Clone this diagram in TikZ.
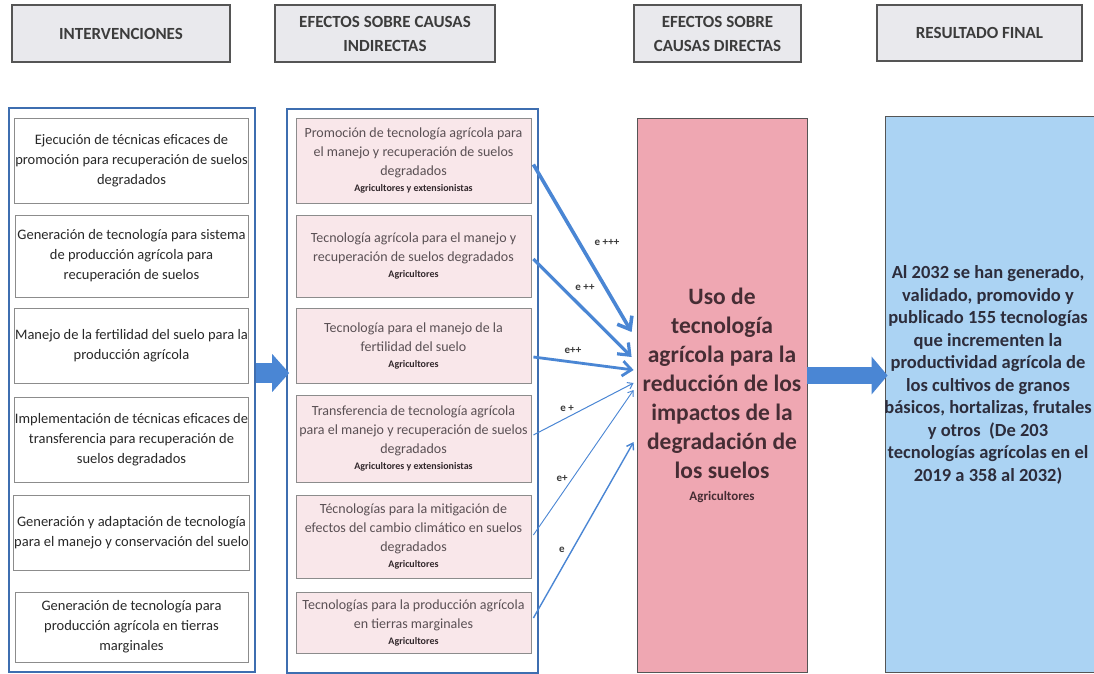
\documentclass[tikz,border=0pt]{standalone}
\usepackage{fontspec}
\setmainfont{Carlito}
\usetikzlibrary{arrows.meta,calc}
\definecolor{hdrfill}{RGB}{233,233,237}
\definecolor{hdrline}{RGB}{85,85,85}
\definecolor{hdrtext}{RGB}{60,60,60}
\definecolor{contline}{RGB}{62,110,176}
\definecolor{boxline}{RGB}{140,140,140}
\definecolor{pinkfill}{RGB}{249,231,234}
\definecolor{redfill}{RGB}{239,167,178}
\definecolor{bluefill}{RGB}{171,211,243}
\definecolor{arrowblue}{RGB}{74,134,212}
\definecolor{lefttext}{RGB}{40,40,40}
\definecolor{midtext}{RGB}{90,80,84}
\definecolor{redtext}{RGB}{70,45,52}
\definecolor{bluetext}{RGB}{45,45,60}
\definecolor{subtext}{RGB}{50,40,44}
\newcommand{\subl}[1]{{\fontsize{10}{12}\selectfont\bfseries\color{subtext}#1}}
\begin{document}
\begin{tikzpicture}[x=1pt,y=-1pt,
  hdr/.style={draw=hdrline, line width=1.2pt, fill=hdrfill, align=center,
    font=\fontsize{17}{24}\selectfont\bfseries, text=hdrtext},
  cont/.style={draw=contline, line width=1.6pt},
  lbox/.style={draw=boxline, line width=0.8pt, fill=white, inner xsep=0.5pt,
    align=center, font=\fontsize{14.5}{20}\selectfont, text=lefttext, minimum width=233pt},
  mbox/.style={draw=boxline, line width=0.8pt, fill=pinkfill, inner xsep=1pt,
    align=center, font=\fontsize{14}{19}\selectfont, text=midtext, minimum width=235pt},
  link/.style={draw=arrowblue},
  elab/.style={font=\fontsize{11}{13}\selectfont\bfseries, text=hdrtext},
  blockarrow/.style={draw=arrowblue, line width=#1}
]
\useasboundingbox (0,0) rectangle (1094,674);
\clip (0,0) rectangle (1094,674);
\fill[white] (0,0) rectangle (1094,674);

% headers
\node[hdr, minimum width=218pt, minimum height=57pt] (h1) at (121,33.5) {INTERVENCIONES};
\node[hdr, minimum width=220pt, minimum height=57pt] (h2) at (385,33.5) {EFECTOS SOBRE CAUSAS\\INDIRECTAS};
\node[hdr, minimum width=167pt, minimum height=57pt] (h3) at (717.5,33.5) {EFECTOS SOBRE\\CAUSAS DIRECTAS};
\node[hdr, minimum width=205pt, minimum height=56pt] (h4) at (979.5,33) {RESULTADO FINAL};

% containers
\node[cont, minimum width=246pt, minimum height=564pt] (lc) at (132,390) {};
\node[cont, minimum width=251pt, minimum height=564pt] (mc) at (412.5,391) {};

% left boxes
\node[lbox, minimum height=85pt] (l1) at (131.5,160.5) {Ejecución de técnicas eficaces de\\promoción para recuperación de suelos\\degradados};
\node[lbox, minimum height=82pt] (l2) at (131.5,256) {Generación de tecnología para sistema\\de producción agrícola para\\recuperación de suelos};
\node[lbox, minimum height=75pt] (l3) at (131.5,345.5) {Manejo de la fertilidad del suelo para la\\producción agrícola};
\node[lbox, minimum height=85pt] (l4) at (131.5,439.5) {Implementación de técnicas eficaces de\\transferencia para recuperación de\\suelos degradados};
\node[lbox, minimum height=75pt] (l5) at (131.5,532.5) {Generación y adaptación de tecnología\\para el manejo y conservación del suelo};
\node[lbox, minimum height=70pt] (l6) at (131.5,627) {Generación de tecnología para\\producción agrícola en tierras\\marginales};

% middle boxes
\node[mbox, minimum height=85pt] (m1) at (413.5,160.5) {Promoción de tecnología agrícola para\\el manejo y recuperación de suelos\\degradados\\[-3pt]\subl{Agricultores y extensionistas}};
\node[mbox, minimum height=82pt] (m2) at (413.5,256) {Tecnología agrícola para el manejo y\\recuperación de suelos degradados\\[-3pt]\subl{Agricultores}};
\node[mbox, minimum height=75pt] (m3) at (413.5,345.5) {Tecnología para el manejo de la\\fertilidad del suelo\\[-3pt]\subl{Agricultores}};
\node[mbox, minimum height=87pt] (m4) at (413.5,438.5) {Transferencia de tecnología agrícola\\para el manejo y recuperación de suelos\\degradados\\[-3pt]\subl{Agricultores y extensionistas}};
\node[mbox, minimum height=83pt] (m5) at (413.5,536.5) {Técnologías para la mitigación de\\efectos del cambio climático en suelos\\degradados\\[-3pt]\subl{Agricultores}};
\node[mbox, minimum height=61pt] (m6) at (413.5,622.5) {Tecnologías para la producción agrícola\\en tierras marginales\\[-3pt]\subl{Agricultores}};

% red box
\node[draw=hdrline, line width=0.8pt, fill=redfill, minimum width=170pt, minimum height=554pt,
  inner xsep=1pt, align=center, font=\fontsize{23.5}{29}\selectfont\bfseries, text=redtext]
  (red) at (722,395) {Uso de\\tecnología\\agrícola para la\\reducción de los\\impactos de la\\degradación de\\los suelos\\[-7pt]{\fontsize{13}{15}\selectfont Agricultores}};

% blue box
\node[draw=hdrline, line width=0.8pt, fill=bluefill, minimum width=212pt, minimum height=556pt] (blue) at (991,394) {};
\node[align=center, font=\fontsize{18.5}{22.5}\selectfont\bfseries, text=bluetext]
  (bluetxt) at (988,375) {Al 2032 se han generado,\\validado, promovido y\\publicado 155 tecnologías\\que incrementen la\\productividad agrícola de\\los cultivos de granos\\básicos, hortalizas, frutales\\y otros\ \ (De 203\\tecnologías agrícolas en el\\2019 a 358 al 2032)};

% block arrows
\draw[blockarrow=20pt, -{Triangle[length=17pt,width=37pt]}] ([yshift=17pt]lc.east) -- ([xshift=3pt,yshift=18pt]mc.west);
\draw[blockarrow=17pt, -{Triangle[length=16pt,width=37pt]}] ([yshift=19.5pt]red.east) -- ([xshift=3pt,yshift=18.5pt]blue.west);

% effect arrows
\draw[link, line width=3.6pt, -{Straight Barb[length=11pt,width=17pt]}] ([xshift=2pt,yshift=-4pt]m1.east) -- ([xshift=-5pt,yshift=63pt]red.west);
\draw[link, line width=3.2pt, -{Straight Barb[length=10pt,width=16pt]}] ([xshift=2pt,yshift=-3pt]m2.east) -- ([xshift=-5pt,yshift=38pt]red.west);
\draw[link, line width=2.8pt, -{Straight Barb[length=9pt,width=15pt]}] ([xshift=2pt,yshift=-11.5pt]m3.east) -- ([xshift=-3pt,yshift=25pt]red.west);
\draw[link, line width=1.0pt, -{Straight Barb[length=5pt,width=7pt]}] ([xshift=2pt,yshift=3.5pt]m4.east) -- ([xshift=-3pt,yshift=12pt]red.west);
\draw[link, line width=0.9pt, -{Straight Barb[length=5pt,width=7pt]}] ([xshift=2pt,yshift=1.5pt]m5.east) -- ([xshift=-3pt,yshift=5pt]red.west);
\draw[link, line width=1.4pt, -{Straight Barb[length=6pt,width=8pt]}] ([xshift=2pt,yshift=4.5pt]m6.east) -- ([xshift=-3pt,yshift=-47pt]red.west);

% labels
\node[elab] (e1) at (607,242) {e +++};
\node[elab] (e2) at (585,287) {e ++};
\node[elab] (e3) at (573,350) {e++};
\node[elab] (e4) at (567,408) {e +};
\node[elab] (e5) at (562,478) {e+};
\node[elab] (e6) at (562,550) {e};
\end{tikzpicture}
\end{document}
